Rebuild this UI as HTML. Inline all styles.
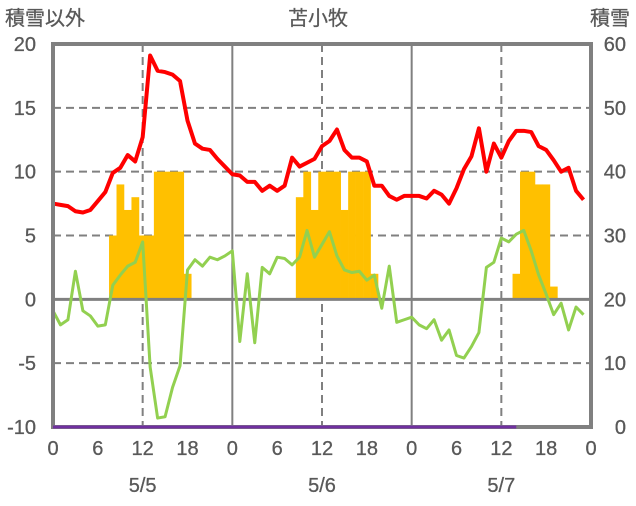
<!DOCTYPE html>
<html><head><meta charset="utf-8"><style>
body{margin:0;background:#fff;}
svg text{font-family:"Liberation Sans","Noto Sans CJK JP",sans-serif;fill:#595959;font-size:20px;stroke:#595959;stroke-width:0.3px;}
</style></head><body>
<svg id="chart" width="636" height="501" xmlns="http://www.w3.org/2000/svg">
<g id="grid"></g><g id="bars"></g><g id="lines"></g><g id="labels"></g>
<text x="5" y="25">積雪以外</text>
<text x="318" y="25" text-anchor="middle">苫小牧</text>
<text x="630" y="25" text-anchor="end">積雪</text>
</svg>
<script>
const leftTicks=[20,15,10,5,0,-5,-10];
const rightTicks=[60,50,40,30,20,10,0];
const hourTicks=[0,6,12,18];
const dateLabels=["5/5","5/6","5/7"];
const temp=[7.5,7.4,7.3,6.9,6.8,7.0,7.7,8.4,9.9,10.3,11.3,10.8,12.7,19.1,17.9,17.8,17.6,17.1,14.0,12.2,11.8,11.7,11.0,10.4,9.8,9.7,9.2,9.2,8.5,8.9,8.5,8.9,11.1,10.4,10.7,11.0,12.0,12.4,13.3,11.7,11.1,11.1,10.8,8.9,8.9,8.1,7.8,8.1,8.1,8.1,7.9,8.5,8.2,7.5,8.7,10.2,11.2,13.4,10.0,12.2,11.1,12.4,13.2,13.2,13.1,12.0,11.7,10.9,10.0,10.3,8.5,7.8];
const green=[-0.9,-2.0,-1.6,2.2,-0.9,-1.3,-2.1,-2.0,1.1,1.9,2.6,2.9,4.5,-5.3,-9.3,-9.2,-6.9,-5.2,2.3,3.1,2.6,3.3,3.1,3.4,3.8,-3.3,2.0,-3.4,2.5,2.0,3.3,3.2,2.7,3.3,5.4,3.3,4.3,5.3,3.4,2.3,2.1,2.2,1.5,1.9,-0.7,2.6,-1.8,-1.6,-1.4,-2.0,-2.3,-1.6,-3.2,-2.4,-4.4,-4.6,-3.7,-2.6,2.5,2.9,4.8,4.5,5.1,5.4,3.8,1.9,0.4,-1.2,-0.3,-2.4,-0.6,-1.2];
const barHours=[8,9,10,11,12,13,14,15,16,17,18,33,34,35,36,37,38,39,40,41,42,43,62,63,64,65,66,67];
const barValues=[5,9,7,8,5,5,10,10,10,10,2,8,10,7,10,10,10,7,10,10,10,2,2,10,10,9,9,1];
const snowDepth=new Array(63).fill(0);
const X0=53,X1=591,Y0=44,Y1=427;
const xs=h=>X0+(X1-X0)*h/72;
const yl=v=>Y1-(v+10)/30*(Y1-Y0);
const yr=v=>Y1-v/60*(Y1-Y0);
const NS="http://www.w3.org/2000/svg";
function mk(p,tag,at){const e=document.createElementNS(NS,tag);for(const k in at)e.setAttribute(k,at[k]);document.getElementById(p).appendChild(e);return e;}
leftTicks.forEach(v=>{if(v===20||v===-10||v===0)return;
 const e=mk('grid','line',{x1:X0,x2:X1,y1:yl(v),y2:yl(v),stroke:'#808080','stroke-width':2,'stroke-dasharray':'8,5'});
 });
for(let d=0;d<3;d++){
 const e=mk('grid','line',{x1:xs(d*24+12),x2:xs(d*24+12),y1:Y0,y2:Y1,stroke:'#808080','stroke-width':2,'stroke-dasharray':'8,5'});
 
 if(d>0){const s=mk('grid','line',{x1:xs(d*24),x2:xs(d*24),y1:Y0,y2:Y1,stroke:'#808080','stroke-width':2});
 }
}
barHours.forEach((h,i)=>{const b=mk('bars','rect',{x:xs(h-0.5),width:xs(1)-X0+0.3,y:yl(barValues[i]),height:yl(0)-yl(barValues[i]),fill:'#FFC000'});
 });
const z=mk('bars','line',{x1:X0,x2:X1,y1:yl(0),y2:yl(0),stroke:'#808080','stroke-width':3});

const pts=a=>a.map((v,i)=>xs(i)+','+yl(v)).join(' ');
const g=mk('lines','polyline',{points:pts(green),fill:'none',stroke:'#92D050','stroke-width':3,'stroke-linejoin':'round'});

const r=mk('lines','polyline',{points:pts(temp),fill:'none',stroke:'#FF0000','stroke-width':4,'stroke-linejoin':'round'});

const f=mk('lines','rect',{x:X0,y:Y0,width:X1-X0,height:Y1-Y0,fill:'none',stroke:'#808080','stroke-width':4});

const p=mk('lines','polyline',{points:snowDepth.map((v,i)=>xs(i)+','+yr(v)).join(' '),fill:'none',stroke:'#7030A0','stroke-width':3});

leftTicks.forEach(v=>{const t=mk('labels','text',{x:36,y:yl(v)+7,'text-anchor':'end'});t.textContent=v;
 });
rightTicks.forEach(v=>{const t=mk('labels','text',{x:626,y:yr(v)+7,'text-anchor':'end'});t.textContent=v;
 });
for(let d=0;d<=3;d++)hourTicks.forEach(h=>{if(d===3&&h>0)return;const t=mk('labels','text',{x:xs(d*24+h),y:455,'text-anchor':'middle'});t.textContent=h;
 });
dateLabels.forEach((s,i)=>{const t=mk('labels','text',{x:xs(i*24+12),y:492,'text-anchor':'middle'});t.textContent=s;
 });
</script>
</body></html>
